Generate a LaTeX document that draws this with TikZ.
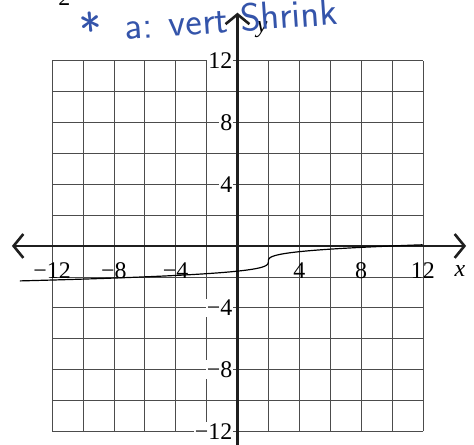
\documentclass[tikz,border=0pt]{standalone}
\usepackage{fontspec}
\setmainfont{Liberation Serif}
\usetikzlibrary{arrows.meta}
\definecolor{penblue}{RGB}{52,84,170}

\begin{document}
\begin{tikzpicture}[x=0.5cm, y=0.5cm,
    >={Straight Barb[length=9pt, width=22pt]},
    gridline/.style={draw=black!70, line width=0.65pt},
    axisline/.style={line width=2.4pt, draw=black!88},
    tick/.style={font=\fontsize{22}{22}\selectfont, inner sep=1pt},
    ylab/.style={tick, anchor=east, fill=white},
    curve/.style={line width=1.1pt, black},
    hand/.style={penblue, font=\sffamily\fontsize{36}{36}\selectfont}]

\useasboundingbox (-15.37,-12.88) rectangle (15.31,15.92);

% === Grid ===
\draw[gridline] (-12,-12) grid[step=2] (12,12);

% === Axes ===
\coordinate (xl) at (-14.6,0);
\coordinate (xr) at (14.8,0);
\coordinate (yb) at (0,-13.6);
\coordinate (yt) at (0,15.1);
\draw[axisline, <->] (xl) -- (xr);
\draw[axisline, ->]  (yb) -- (yt);

% === Tick labels ===
\foreach \v/\t in {-12/−12, -8/−8, -4/−4, 4/4, 8/8, 12/12}
    \node[tick] (xt\v) at (\v,-1.6) {\t};
\foreach \v/\t in {12/12, 8/8, 4/4, -4/−4, -8/−8, -12/−12}
    \node[ylab] (yt\v) at (-0.25,\v) {\t};

\node[tick] (xname) at (14.4,-1.6) {\textit{x}};
\node[tick] (yname) at (1.6,14.0) {\textit{y}};

% === Curve ===
\draw[curve] plot[variable=\t, domain=-2.524:2.154, samples=90, smooth]
    ({2+\t*\t*\t},{\t/2-1});

% === Handwriting ===
\node[hand, rotate=5, font=\sffamily\fontsize{44}{44}\selectfont] (star) at (-9.5,14.0) {*};
\node[hand, rotate=4, anchor=base] (note) at (-0.35,13.85) {a: vert Shrink};
\node[tick, anchor=south] (num) at (-11.2,15.5) {2};

\end{tikzpicture}
\end{document}
